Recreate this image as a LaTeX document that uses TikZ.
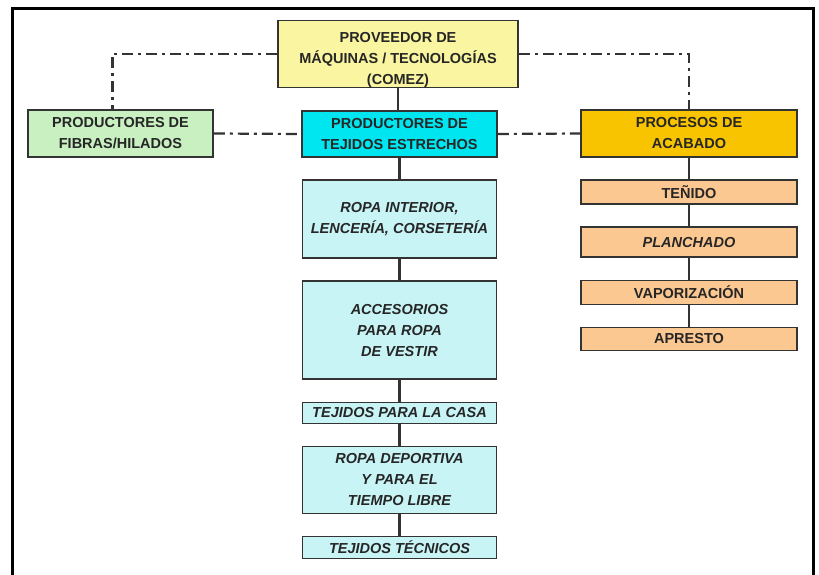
\documentclass[tikz,border=0pt]{standalone}
\usepackage{fontspec}
\setmainfont{Liberation Sans}
\usepackage{tikz}
\usetikzlibrary{positioning}

\definecolor{provcol}{HTML}{FAF5A0}
\definecolor{fibcol}{HTML}{C8F0C0}
\definecolor{tejcol}{HTML}{00E6F0}
\definecolor{acacol}{HTML}{F8C400}
\definecolor{usocol}{HTML}{C8F4F6}
\definecolor{proccol}{HTML}{FCC892}
\definecolor{linecol}{HTML}{333333}

\begin{document}
\begin{tikzpicture}[x=1pt, y=-1pt,
    node distance=21.5pt,
    box/.style={draw=linecol, line width=1.6pt, inner sep=0pt, align=center,
        font=\fontsize{14.5}{21}\selectfont\bfseries, text=black!85},
    usobox/.style={box, fill=usocol, minimum width=194pt,
        font=\fontsize{14.5}{21}\selectfont\bfseries\itshape},
    procbox/.style={box, fill=proccol, minimum width=216pt},
    link/.style={draw=linecol, line width=2.8pt},
    dashlink/.style={draw=linecol, line width=2.2pt,
        dash pattern=on 11pt off 5pt on 3pt off 5pt}]
\useasboundingbox (0,0) rectangle (819,575);

%Frame
\draw[line width=3pt] (12,575) |- (813,9) -- (813,575);

%Nodes
\node[box, fill=provcol, minimum width=240pt, minimum height=67pt]
    (prov)  at (398,54)     {\raisebox{-5pt}[\height][\depth]{\begin{tabular}{@{}c@{}}
        PROVEEDOR DE\\M\'AQUINAS / TECNOLOG\'IAS\\(COMEZ)\end{tabular}}};
\node[box, fill=fibcol, minimum width=185pt, minimum height=47pt]
    (fib)   at (120.5,133.5) {PRODUCTORES DE\\FIBRAS/HILADOS};
\node[box, fill=tejcol, minimum width=195pt, minimum height=46pt]
    (tej)   at (399.5,134)  {PRODUCTORES DE\\TEJIDOS ESTRECHOS};
\node[box, fill=acacol, minimum width=216pt, minimum height=47pt]
    (aca)   at (689,133.5)  {PROCESOS DE\\ACABADO};

\node[usobox, minimum height=78pt]  (ropa)  [below=of tej]   {ROPA INTERIOR,\\LENCER\'IA, CORSETER\'IA};
\node[usobox, minimum height=98pt]  (acc)   [below=of ropa]  {ACCESORIOS\\PARA ROPA\\DE VESTIR};
\node[usobox, minimum height=21pt]  (casa)  [below=of acc]   {TEJIDOS PARA LA CASA};
\node[usobox, minimum height=67pt]  (dep)   [below=of casa]  {ROPA DEPORTIVA\\Y PARA EL\\TIEMPO LIBRE};
\node[usobox, minimum height=22pt]  (tec)   [below=of dep]   {TEJIDOS T\'ECNICOS};

\node[procbox, minimum height=24pt] (teni)  [below=of aca]   {TE\~NIDO};
\node[procbox, minimum height=30pt, font=\fontsize{14.5}{21}\selectfont\bfseries\itshape]
    (plan)  [below=of teni]  {PLANCHADO};
\node[procbox, minimum height=24pt] (vapo)  [below=of plan]  {VAPORIZACI\'ON};
\node[procbox, minimum height=23pt] (apre)  [below=of vapo]  {APRESTO};

%Lines
\draw[link] (prov.south) -- (prov.south |- tej.north);
\draw[link] (tej.south) -- (ropa.north);
\draw[link] (ropa.south) -- (acc.north);
\draw[link] (acc.south) -- (casa.north);
\draw[link] (casa.south) -- (dep.north);
\draw[link] (dep.south) -- (tec.north);

\draw[link] (aca.south) -- (teni.north);
\draw[link] (teni.south) -- (plan.north);
\draw[link] (plan.south) -- (vapo.north);
\draw[link] (vapo.south) -- (apre.north);

\draw[dashlink] (prov.west) -| ([xshift=-8pt]fib.north);
\draw[dashlink] (prov.east) -| (aca.north);
\draw[dashlink] (fib.east) -- (tej.west);
\draw[dashlink] (tej.east) -- (aca.west);
\end{tikzpicture}
\end{document}
